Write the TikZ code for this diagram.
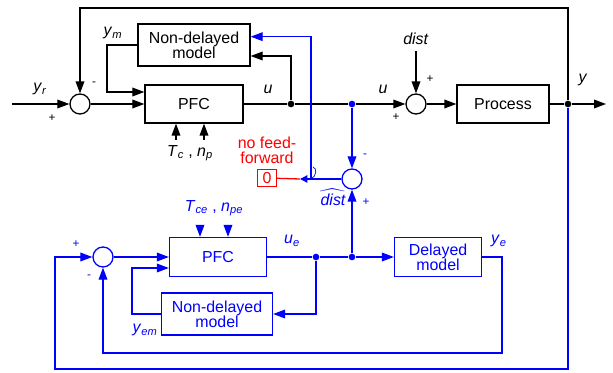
\documentclass[tikz,border=0pt]{standalone}
\usepackage{amsmath}
\usepackage{fontspec}
\setmainfont{Liberation Sans}
\usetikzlibrary{arrows.meta, calc}

\newcommand{\lbl}[2]{\textit{#1}\textsubscript{\textit{#2}}}

\begin{document}
\begin{tikzpicture}[
  x=0.03cm, y=-0.03cm,
  font=\fontsize{13.6}{13}\selectfont,
  block/.style={draw, line width=1.1pt, align=center, inner sep=0pt},
  sum/.style={circle, draw, line width=1.1pt, minimum size=0.6cm, inner sep=0pt},
  dot/.style={circle, fill, inner sep=0pt, minimum size=2mm},
  line/.style={line width=1.1pt},
  arrow/.style={-{Triangle[length=3.6mm, width=2.6mm]}, line width=1.1pt},
  small arrow/.style={-{Triangle[length=2.2mm, width=2.2mm]}, line width=1.1pt},
  sign/.style={font=\fontsize{10}{10}\selectfont}
]
\useasboundingbox (0,0) rectangle (613,373);

% blocks
\node[block, minimum width=3.36cm, minimum height=1.26cm] (ndm) at (194,45) {Non-delayed\\model};
\node[block, minimum width=2.94cm, minimum height=1.14cm] (pfc) at (194,104) {PFC};
\node[block, minimum width=2.76cm, minimum height=1.14cm] (proc) at (503,104) {Process};
\node[block, blue, minimum width=2.91cm, minimum height=1.17cm] (pfce) at (218,257) {PFC};
\node[block, blue, minimum width=3.33cm, minimum height=1.26cm] (ndme) at (217,314) {Non-delayed\\model};
\node[block, blue, minimum width=2.61cm, minimum height=1.17cm] (dm) at (438,257) {Delayed\\model};
\node[block, red, minimum width=0.57cm, minimum height=0.52cm] (zero) at (267,178) {0};

% summing junctions
\node[sum] (s1) at (80,104) {};
\node[sum] (s2) at (416,104) {};
\node[sum, blue] (s3) at (352,179) {};
\node[sum, blue] (s4) at (103,257) {};

% branch points
\node[dot] (du) at (291,104) {};
\node[dot, blue] (dub) at (352,104) {};
\node[dot] (dy) at (568,104) {};
\node[dot, blue] (due1) at (316,257) {};
\node[dot, blue] (due2) at (352,257) {};

% free ends and corners
\coordinate (yr) at (12,104);
\coordinate (yout) at (606,104);
\coordinate (ytop) at (568,8);
\coordinate (ybot) at (55,369);
\coordinate (ye) at (502,353);
\coordinate (ym) at (107,92);
\coordinate (yem) at (132,268);
\coordinate (dist) at (416,51);
\coordinate (sw) at (311,179);
\coordinate (swl) at (300,179);
\coordinate (tc) at (176,140);
\coordinate (np) at (204,140);
\coordinate (tce) at (200,226);
\coordinate (npe) at (228,226);

% process loop
\draw[arrow] (yr) -- (s1);
\draw[arrow] (s1) -- (pfc);
\draw[line] (pfc) -- (du);
\draw[line] (du) -- (dub);
\draw[arrow] (dub) -- (s2);
\draw[arrow] (dist) -- (s2);
\draw[arrow] (s2) -- (proc);
\draw[line] (proc) -- (dy);
\draw[arrow] (dy) -- (yout);
\draw[arrow] (dy) -- (ytop) -| (s1);
\draw[arrow] (du) |- ([yshift=-0.33cm]ndm.east);
\draw[arrow] (ndm) -| (ym) -- (ym -| pfc.west);
\draw[arrow] (tc) -- (tc |- pfc.south);
\draw[arrow] (np) -- (np |- pfc.south);

% disturbance estimate
\draw[arrow, blue] (dub) -- (s3);
\draw[arrow, blue] (due2) -- (s3);
\draw[arrow, blue] (s3) -- (sw) |- ([yshift=0.25cm]ndm.east);
\draw[small arrow, blue] (sw) -- (swl);
\draw[line, red] (zero) -- (swl);
\draw[blue, line width=0.6pt] (sw) .. controls (317,176) and (317,168) .. (313,167);

% model loop
\draw[arrow, blue] (s4) -- (pfce);
\draw[line, blue] (pfce) -- (due1);
\draw[line, blue] (due1) -- (due2);
\draw[arrow, blue] (due2) -- (dm);
\draw[arrow, blue] (due1) |- (ndme);
\draw[arrow, blue] (ndme) -| (yem) -- (yem -| pfce.west);
\draw[arrow, blue] (dm) -| (ye) -| (s4);
\draw[arrow, blue] (dy) |- (ybot) |- (s4);
\draw[arrow, blue] (tce) -- (tce |- pfce.north);
\draw[arrow, blue] (npe) -- (npe |- pfce.north);

% labels
\node at (40,89) {\lbl{y}{r}};
\node[sign] at (52,118) {+};
\node[sign] at (94,84) {-};
\node at (113,33) {\lbl{y}{m}};
\node at (268,89) {\textit{u}};
\node at (383,89) {\textit{u}};
\node at (416,39) {\textit{dist}};
\node[sign] at (430,79) {+};
\node[sign] at (396,117) {+};
\node at (583,80) {\textit{y}};
\node at (190,153) {\lbl{T}{c} , \lbl{n}{p}};
\node[red, align=center] at (267,150) {no feed-\\forward};
\node[sign, blue] at (365,156) {-};
\node[sign, blue] at (366,202) {+};
\node[blue] at (333,197) {$\widehat{\text{\itshape dist}}$};
\node[sign, blue] at (76,244) {+};
\node[sign, blue] at (89,277) {-};
\node[blue] at (214,208) {\lbl{T}{ce} , \lbl{n}{pe}};
\node[blue] at (292,241) {\lbl{u}{e}};
\node[blue] at (145,330) {\lbl{y}{em}};
\node[blue] at (499,241) {\lbl{y}{e}};
\end{tikzpicture}
\end{document}
